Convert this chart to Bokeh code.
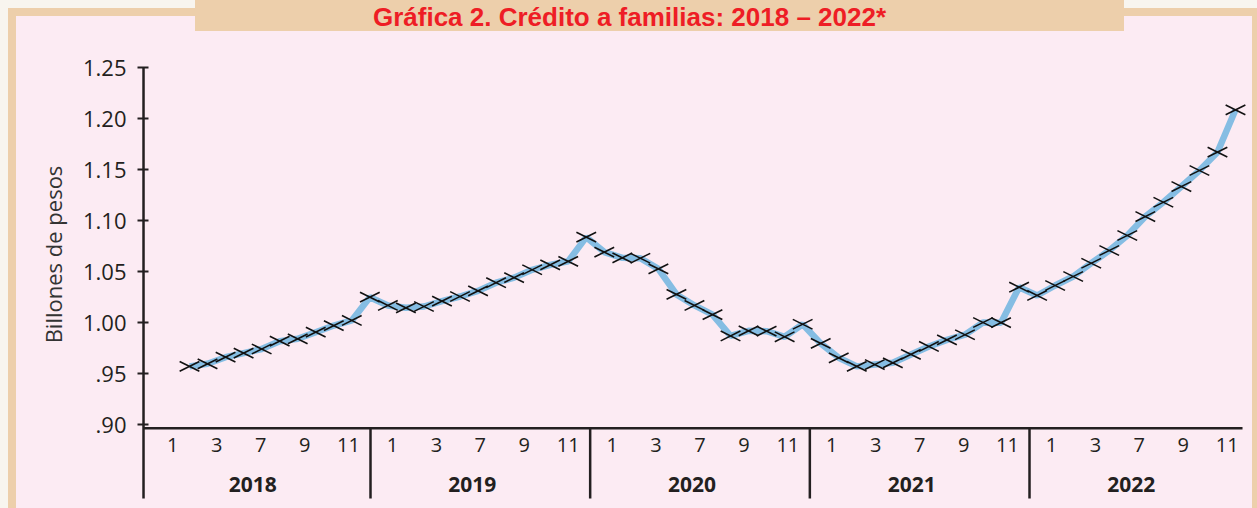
from bokeh.plotting import figure
from bokeh.models import Range1d, FixedTicker, Label
from bokeh.core.properties import value
from bokeh.embed import file_html
from bokeh.resources import INLINE
import numpy as np

# ---------------- data ----------------
credit = [0.957, 0.9595, 0.966, 0.970, 0.974, 0.9817, 0.984, 0.9905, 0.997, 1.002,
          1.0248, 1.0167, 1.0144, 1.0157, 1.021, 1.0255, 1.031, 1.039, 1.044, 1.0517, 1.0565, 1.060,
          1.0837, 1.069, 1.0634, 1.063, 1.0526, 1.0275, 1.0167, 1.0078, 0.9868, 0.9918, 0.9915, 0.9860,
          0.9983, 0.9795, 0.9654, 0.957, 0.9588, 0.9605, 0.9687, 0.9765, 0.983, 0.988, 1.0000, 0.9998,
          1.0346, 1.0265, 1.0363, 1.0451, 1.0581, 1.0706, 1.0853, 1.1039, 1.1179, 1.1333, 1.149, 1.167, 1.2085]
years = ["2018", "2019", "2020", "2021", "2022"]
month_labels = ["1", "3", "7", "9", "11"]
y_ticks = [0.90, 0.95, 1.00, 1.05, 1.10, 1.15, 1.20, 1.25]
y_tick_labels = [".90", ".95", "1.00", "1.05", "1.10", "1.15", "1.20", "1.25"]
title_text = "Gráfica 2. Crédito a familias: 2018 – 2022*"
y_label = "Billones de pesos"

# ---------------- style / layout ----------------
PINK = "#fcebf3"
TAN = "#edcfab"
OFFWHITE = "#f8f5ef"
RED = "#ee1d25"
DARK = "#231f20"
BLUE = "#85bde3"
FONT = "Open Sans"
W, H = 1257, 508
LEFT = 141                        # frame starts here; frame covers the rest of the canvas
X_RANGE = (-2.6616, 59.2199)      # data index units across the frame
BAND_RANGE = (-0.04248, 5.0379)   # year-band units across the frame
Y_RANGE = (0.81765, 1.31569)
AXIS_Y = 0.8964                   # level of the horizontal base line
LOW_Y = 0.82745                   # lower end of spine / separators
SPINE_X = -0.0333                 # band units
RIGHT_X = 4.9697                  # band units, right end of base line

x = np.arange(len(credit))

css_bg = (f"linear-gradient({TAN},{TAN}) 195px 0px / 929px 31px no-repeat, "
          f"linear-gradient({PINK},{PINK}) 16px 16px / 1236px 492px no-repeat, "
          f"linear-gradient({TAN},{TAN}) 8px 8px / 1249px 500px no-repeat, {OFFWHITE}")

p = figure(width=W, height=H, output_backend="svg", toolbar_location=None,
           x_range=Range1d(*X_RANGE), y_range=Range1d(*Y_RANGE),
           x_axis_location=None, y_axis_location="left",
           min_border_left=LEFT, min_border_right=0, min_border_top=0, min_border_bottom=0,
           background_fill_alpha=0, border_fill_alpha=0, outline_line_color=None,
           styles={"background": css_bg})
p.extra_x_ranges = {"band": Range1d(*BAND_RANGE)}
p.grid.visible = False

ax = p.yaxis[0]
ax.ticker = FixedTicker(ticks=y_ticks)
ax.major_label_overrides = {t: s for t, s in zip(y_ticks, y_tick_labels)}
ax.minor_tick_line_color = None
ax.major_tick_in = 7
ax.major_tick_out = 4
ax.major_tick_line_width = 2
ax.major_tick_line_color = DARK
ax.axis_line_color = None
ax.major_label_standoff = 11
ax.major_label_text_font = FONT
ax.major_label_text_font_size = "22px"
ax.major_label_text_color = DARK
ax.axis_label = y_label
ax.axis_label_text_font = FONT
ax.axis_label_text_font_size = "22px"
ax.axis_label_text_font_style = "normal"
ax.axis_label_text_color = "#333333"
ax.axis_label_standoff = 12

# spine, base line and year separators
bounds = list(range(1, len(years)))
p.segment(x0=[SPINE_X], y0=[y_ticks[-1]], x1=[SPINE_X], y1=[LOW_Y],
          x_range_name="band", line_color=DARK, line_width=2.5)
p.segment(x0=[SPINE_X], y0=[AXIS_Y], x1=[RIGHT_X], y1=[AXIS_Y],
          x_range_name="band", line_color=DARK, line_width=2.5)
p.segment(x0=bounds, y0=[AXIS_Y] * len(bounds), x1=bounds, y1=[LOW_Y] * len(bounds),
          x_range_name="band", line_color=DARK, line_width=2.5)

# month labels and year labels
mx, mt = [], []
for k in range(len(years)):
    for j, m in enumerate(month_labels):
        mx.append(k + 0.1 + 0.2 * j)
        mt.append(m)
p.text(x=mx, y=[AXIS_Y] * len(mx), text=mt, x_range_name="band", y_offset=17,
       text_align="center", text_baseline="middle", text_font=value(FONT),
       text_font_size="20px", text_color=DARK)
p.text(x=[k + 0.5 for k in range(len(years))], y=[AXIS_Y] * len(years), text=years,
       x_range_name="band", x_offset=-8, y_offset=56, text_align="center", text_baseline="middle",
       text_font=value(FONT), text_font_style="bold", text_font_size="21px", text_color=DARK)

# series
p.line(x, credit, line_color=BLUE, line_width=6.5)
for a in (0.46, -0.46):
    p.scatter(x, credit, marker="dash", size=22, angle=a, line_color="#111111", line_width=1.6)

# title on the tab
p.add_layout(Label(x=629, y=16, x_units="canvas", y_units="canvas", text=title_text,
                   text_align="center", text_baseline="alphabetic",
                   text_font="Liberation Sans", text_font_style="bold",
                   text_font_size="26px", text_color=RED))

open("out.html", "w").write(file_html(p, INLINE))
